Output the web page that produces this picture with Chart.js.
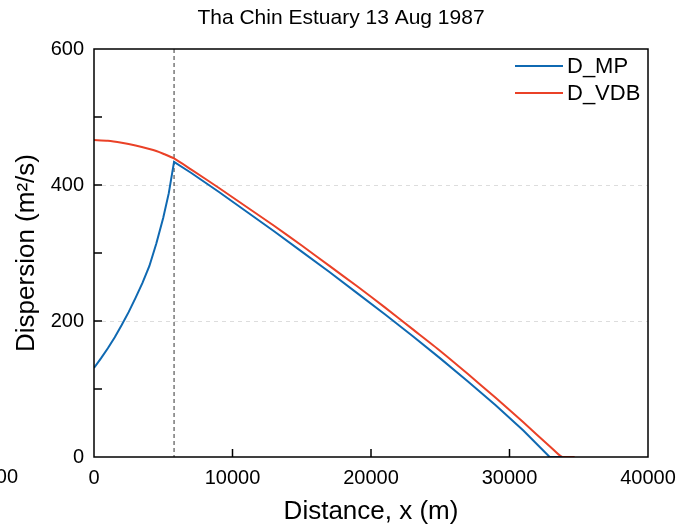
<!DOCTYPE html>
<html>
<head>
<meta charset="utf-8">
<script src="https://cdn.jsdelivr.net/npm/chart.js@4"></script>
<style>
  html, body { margin: 0; padding: 0; background: #fff; }
  #wrap { width: 682px; height: 527px; }
</style>
</head>
<body>
<div id="wrap"><canvas id="myChart" width="682" height="527"></canvas></div>
<script>
// Data
var mpDistance  = [0, 500, 1000, 1500, 2000, 2500, 3000, 3500, 4000, 4500, 5000, 5400, 5780,
                   7000, 9000, 11000, 13000, 15000, 17000, 19000, 21000, 23000, 25000, 27000, 29000, 31000, 32900, 33800];
var mpValues    = [131, 145, 160, 176, 194, 213, 234, 256, 281, 314, 352, 388, 434,
                   418, 390, 361, 332, 302, 272, 241, 210, 178, 145, 111, 76, 39, 0, 0];
var vdbDistance = [0, 1000, 2000, 3000, 4000, 4500, 5000, 5780,
                   7000, 9000, 11000, 13000, 15000, 17000, 19000, 21000, 23000, 25000, 27000, 29000, 31000, 33000, 33800, 34700];
var vdbValues   = [466, 465, 462, 458, 453, 450, 446, 439,
                   423, 396, 368, 340, 311, 281, 251, 220, 188, 156, 122, 87, 51, 14, 0, 0];
var markerDistance = 5780; // vertical dashed line
var xTicks = [0, 10000, 20000, 30000, 40000];
var yTicks = [0, 200, 400, 600];
var chartTitle = 'Tha Chin Estuary 13 Aug 1987';

var FONT = "'Liberation Sans', Arial, sans-serif";
var BLUE = '#0f69b2';
var RED = '#ea4127';

function toPoints(xs, ys) {
    return xs.map(function (x, i) { return { x: x, y: ys[i] }; });
}

// title, frame, inward ticks, dashed marker and legend
var extras = {
    id: 'extras',
    beforeDatasetsDraw: function (chart) {
        var ctx = chart.ctx, a = chart.chartArea;
        var xs = chart.scales.x;
        var px = xs.getPixelForValue(markerDistance);
        ctx.save();
        ctx.strokeStyle = '#333';
        ctx.lineWidth = 1;
        ctx.setLineDash([4, 3]);
        ctx.beginPath();
        ctx.moveTo(px, a.top);
        ctx.lineTo(px, a.bottom);
        ctx.stroke();
        ctx.restore();
    },
    afterDraw: function (chart) {
        var ctx = chart.ctx, a = chart.chartArea;
        var xs = chart.scales.x, ys = chart.scales.y;
        ctx.save();
        ctx.fillStyle = '#000';
        ctx.font = '21px ' + FONT;
        ctx.textAlign = 'center';
        ctx.textBaseline = 'middle';
        ctx.fillText(chartTitle, chart.width / 2, 18);

        ctx.strokeStyle = '#000';
        ctx.lineWidth = 1.5;
        ctx.strokeRect(a.left, a.top, a.right - a.left, a.bottom - a.top);
        ctx.beginPath();
        for (var v = 100; v < 600; v += 100) {
            var py = ys.getPixelForValue(v);
            ctx.moveTo(a.left, py);
            ctx.lineTo(a.left + 8, py);
        }
        for (var d = 10000; d < 40000; d += 10000) {
            var px = xs.getPixelForValue(d);
            ctx.moveTo(px, a.bottom);
            ctx.lineTo(px, a.bottom - 8);
        }
        ctx.stroke();

        // legend
        var items = [['D_MP', BLUE], ['D_VDB', RED]];
        ctx.font = '22px ' + FONT;
        ctx.textAlign = 'left';
        items.forEach(function (it, i) {
            var y = 66 + i * 27;
            ctx.strokeStyle = it[1];
            ctx.lineWidth = 2;
            ctx.beginPath();
            ctx.moveTo(515, y);
            ctx.lineTo(563, y);
            ctx.stroke();
            ctx.fillStyle = '#000';
            ctx.fillText(it[0], 567, y + 1);
        });

        // clipped leftover tick label at the far left
        ctx.font = '20px ' + FONT;
        ctx.textAlign = 'right';
        ctx.fillText('-10000', 18, 477);
        ctx.restore();
    }
};

var data = {
    datasets: [{
        label: 'D_MP',
        data: toPoints(mpDistance, mpValues),
        borderColor: BLUE,
        borderWidth: 2,
        pointRadius: 0,
        tension: 0,
        fill: false
    },
    {
        label: 'D_VDB',
        data: toPoints(vdbDistance, vdbValues),
        borderColor: RED,
        borderWidth: 2,
        pointRadius: 0,
        tension: 0.2,
        fill: false
    }]
};

var options = {
    responsive: false,
    animation: false,
    layout: { padding: { left: 0, right: 34, top: 49, bottom: 0 } },
    plugins: {
        legend: { display: false },
        tooltip: { enabled: false },
        title: { display: false }
    },
    scales: {
        x: {
            type: 'linear',
            min: 0,
            max: 40000,
            afterFit: function (s) { s.height = 70; s.paddingLeft = 0; s.paddingRight = 0; },
            afterBuildTicks: function (s) { s.ticks = xTicks.map(function (v) { return { value: v }; }); },
            grid: { display: false, drawTicks: false },
            border: { display: false },
            ticks: {
                color: '#000',
                padding: 9,
                maxRotation: 0,
                font: { family: FONT, size: 20 },
                callback: function (v) { return String(v); }
            },
            title: {
                display: true,
                text: 'Distance, x (m)',
                color: '#000',
                font: { family: FONT, size: 26 },
                padding: { top: 0, bottom: 0 }
            }
        },
        y: {
            type: 'linear',
            min: 0,
            max: 600,
            afterFit: function (s) { s.width = 94; s.paddingTop = 0; s.paddingBottom = 0; },
            afterBuildTicks: function (s) { s.ticks = yTicks.map(function (v) { return { value: v }; }); },
            grid: {
                drawTicks: false,
                color: function (c) {
                    var v = c.tick && c.tick.value;
                    return (v === 200 || v === 400) ? '#dddddd' : 'rgba(0,0,0,0)';
                },
                lineWidth: 1
            },
            border: { display: false, dash: [4, 4] },
            ticks: {
                color: '#000',
                padding: 10,
                font: { family: FONT, size: 20 }
            },
            title: {
                display: true,
                text: 'Dispersion (m²/s)',
                color: '#000',
                font: { family: FONT, size: 26 },
                padding: { top: 11, bottom: 0 }
            }
        }
    }
};

var ctx = document.getElementById('myChart').getContext('2d');
var myChart = new Chart(ctx, {
    type: 'line',
    data: data,
    options: options,
    plugins: [extras]
});
</script>
</body>
</html>
